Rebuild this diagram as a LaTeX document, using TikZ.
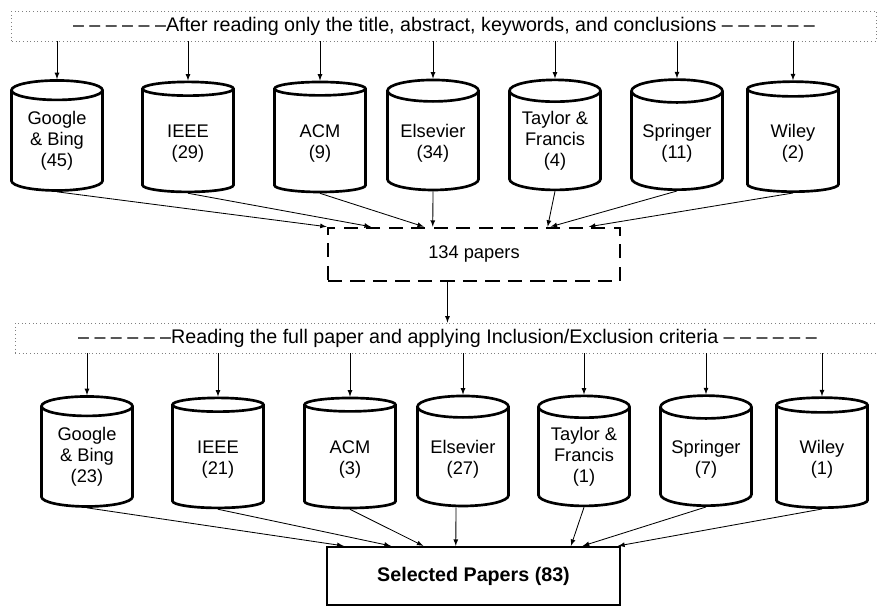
\documentclass[tikz,border=0pt]{standalone}
\usepackage{fontspec}
\setmainfont{Liberation Sans}
\usetikzlibrary{calc,arrows,shapes.geometric}
\tikzset{
    db/.style={cylinder, shape border rotate=90, draw, line width=1.9pt,
            aspect=0.33, minimum width=2.275cm, minimum height=2.75cm,
            inner sep=0pt, align=center, font=\fontsize{13}{15}\selectfont,
            execute at begin node={\rule{0pt}{27pt}}},
    stage/.style={draw=gray, dotted, line width=0.6pt, minimum width=21.6cm,
            minimum height=0.75cm, inner sep=0pt, font=\fontsize{14}{16}\selectfont},
    conn/.style={-latex, line width=0.6pt}
}

\begin{document}
\begin{tikzpicture}[x=0.025cm, y=-0.025cm]
            \useasboundingbox (0, 0) rectangle (877, 607);
            % first screening
            \node [stage] (hdr1) at (444, 26) {-- -- -- -- -- --After reading only the title, abstract, keywords, and conclusions -- -- -- -- -- --};
            \node [db] (g1) at (57, 141) {Google\\ \& Bing\\ (45)};
            \node [db] (i1) at (188, 141) {IEEE\\ (29)};
            \node [db] (a1) at (320, 141) {ACM\\ (9)};
            \node [db] (e1) at (433, 141) {Elsevier\\ (34)};
            \node [db] (t1) at (555, 141) {Taylor \&\\ Francis\\ (4)};
            \node [db] (s1) at (677, 141) {Springer\\ (11)};
            \node [db] (w1) at (793, 141) {Wiley\\ (2)};
            \node [draw, line width=1.8pt, dash pattern=on 10pt off 6pt, minimum width=7.3cm,
                minimum height=1.325cm, font=\fontsize{13}{15}\selectfont] (p134) at (474, 254.5) {134 papers};
            \draw [conn] (hdr1.south -| g1.top) -- (g1.top);
            \draw [conn] (hdr1.south -| i1.top) -- (i1.top);
            \draw [conn] (hdr1.south -| a1.top) -- (a1.top);
            \draw [conn] (hdr1.south -| e1.top) -- (e1.top);
            \draw [conn] (hdr1.south -| t1.top) -- (t1.top);
            \draw [conn] (hdr1.south -| s1.top) -- (s1.top);
            \draw [conn] (hdr1.south -| w1.top) -- (w1.top);
            \draw [conn] (g1.bottom) -- (p134.north west);
            \draw [conn] (i1.bottom) -- ($(p134.north west)!0.15!(p134.north east)$);
            \draw [conn] (a1.bottom) -- ($(p134.north west)!0.33!(p134.north east)$);
            \draw [conn] (e1.bottom) -- ($(p134.north west)!0.36!(p134.north east)$);
            \draw [conn] (t1.bottom) -- ($(p134.north west)!0.75!(p134.north east)$);
            \draw [conn] (s1.bottom) -- ($(p134.north west)!0.76!(p134.north east)$);
            \draw [conn] (w1.bottom) -- ($(p134.north west)!0.89!(p134.north east)$);
            % full-text screening
            \node [stage] (hdr2) at (447.5, 338) {-- -- -- -- -- --Reading the full paper and applying Inclusion/Exclusion criteria -- -- -- -- -- --};
            \coordinate (q) at ($(p134.south west)!0.41!(p134.south east)$);
            \draw [conn] (q) -- (q |- hdr2.north);
            \node [db] (g2) at (87, 457) {Google\\ \& Bing\\ (23)};
            \node [db] (i2) at (218, 457) {IEEE\\ (21)};
            \node [db] (a2) at (350, 457) {ACM\\ (3)};
            \node [db] (e2) at (463, 457) {Elsevier\\ (27)};
            \node [db] (t2) at (584, 457) {Taylor \&\\ Francis\\ (1)};
            \node [db] (s2) at (706, 457) {Springer\\ (7)};
            \node [db] (w2) at (822, 457) {Wiley\\ (1)};
            \node [draw, line width=1.6pt, minimum width=7.325cm, minimum height=1.45cm,
                font=\fontsize{14}{16}\selectfont\bfseries] (sel) at (473.5, 576) {Selected Papers (83)};
            \draw [conn] (hdr2.south -| g2.top) -- (g2.top);
            \draw [conn] (hdr2.south -| i2.top) -- (i2.top);
            \draw [conn] (hdr2.south -| a2.top) -- (a2.top);
            \draw [conn] (hdr2.south -| e2.top) -- (e2.top);
            \draw [conn] (hdr2.south -| t2.top) -- (t2.top);
            \draw [conn] (hdr2.south -| s2.top) -- (s2.top);
            \draw [conn] (hdr2.south -| w2.top) -- (w2.top);
            \draw [conn] (g2.bottom) -- ($(sel.north west)!0.06!(sel.north east)$);
            \draw [conn] (i2.bottom) -- ($(sel.north west)!0.22!(sel.north east)$);
            \draw [conn] (a2.bottom) -- ($(sel.north west)!0.33!(sel.north east)$);
            \draw [conn] (e2.bottom) ++(-7, 0) -- ($(sel.north west)!0.44!(sel.north east)$);
            \draw [conn] (t2.bottom) -- ($(sel.north west)!0.83!(sel.north east)$);
            \draw [conn] (s2.bottom) -- ($(sel.north west)!0.87!(sel.north east)$);
            \draw [conn] (w2.bottom) -- ($(sel.north west)!0.99!(sel.north east)$);
\end{tikzpicture}
\end{document}
